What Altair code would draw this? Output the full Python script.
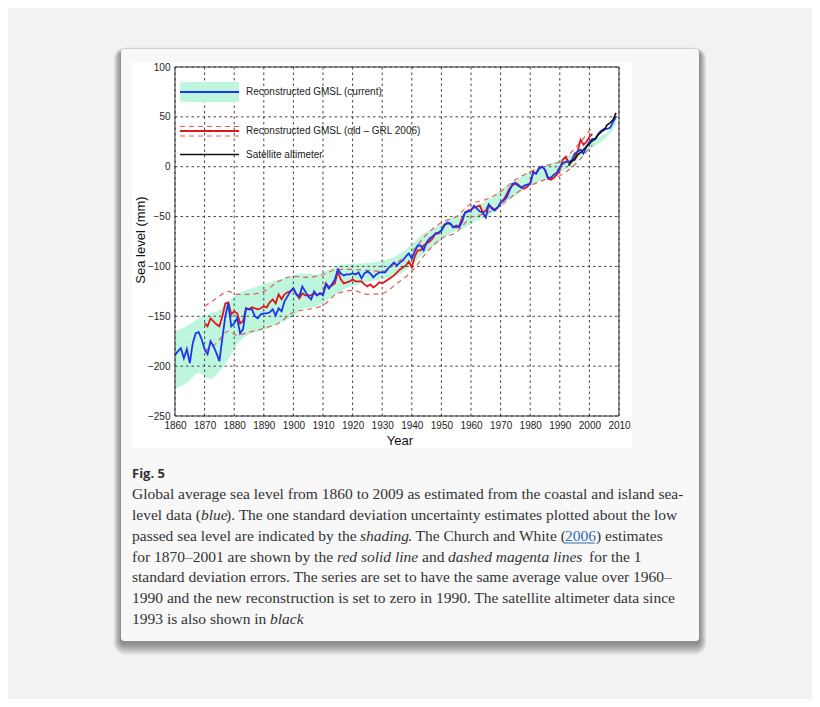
import altair as alt
import pandas as pd

# ---------------- data ----------------
blue_years = list(range(1860, 2010))
blue_vals = [
    -189, -185, -182, -192, -183, -197, -177, -167, -166, -173,
    -183, -188, -175, -180, -187, -195, -172, -150, -137, -160,
    -157, -152, -167, -163, -142, -143, -143, -150, -152, -148,
    -147, -147, -146, -143, -149, -142, -145, -135, -130, -125,
    -122, -128, -130, -120, -125, -130, -133, -125, -129, -127,
    -129, -118, -122, -118, -113, -103, -107, -109, -108, -108,
    -107, -108, -106, -112, -107, -105, -107, -111, -108, -106,
    -106, -106, -102, -99, -96, -99, -96, -94, -90, -87,
    -92, -85, -79, -79, -84, -76, -72, -70, -67, -66,
    -64, -59, -56, -57, -61, -59, -61, -55, -46, -45,
    -44, -39, -42, -45, -46, -51, -38, -42, -44, -41,
    -36, -34, -31, -24, -17, -17, -19, -21, -19, -18,
    -17, -6, -7, -2, 0, -3, -11, -11, -8, -6,
    0, 3, 5, 5, 6, 13, 15, 17, 13, 20,
    25, 28, 28, 33, 36, 38, 38, 39, 45, 50,
]

red_years = list(range(1870, 2002))
red_vals = [
    -157, -160, -152, -155, -158, -160, -150, -137, -136, -148,
    -145, -147, -157, -155, -142, -143, -141, -142, -143, -142,
    -140, -141, -136, -133, -137, -128, -133, -128, -126, -125,
    -122, -128, -132, -127, -129, -129, -129, -127, -129, -127,
    -128, -117, -121, -119, -117, -105, -113, -117, -116, -115,
    -113, -115, -115, -115, -118, -120, -118, -121, -119, -116,
    -117, -115, -113, -111, -109, -106, -103, -101, -99, -95,
    -101, -90, -84, -84, -79, -77, -75, -72, -67, -67,
    -64, -58, -57, -57, -60, -61, -59, -52, -46, -44,
    -43, -41, -40, -39, -46, -44, -38, -41, -43, -41,
    -36, -33, -28, -22, -19, -16, -18, -21, -22, -20,
    -17, -5, -7, -1, 0, -3, -12, -13, -11, -8,
    -3, 7, 10, 4, 5, 9, 15, 27, 22, 25,
    30, 33,
]

err_years = [1870, 1874, 1878, 1881, 1885, 1890, 1895, 1900, 1905, 1910,
             1915, 1920, 1925, 1930, 1935, 1940, 1945, 1950, 1955, 1960,
             1965, 1970, 1975, 1980, 1985, 1990, 1995, 2001]
err_upper = [-140, -132, -125, -128, -128, -125, -115, -110, -111, -108,
             -103, -103, -104, -105, -96, -85, -68, -56, -50, -37,
             -33, -25, -13, -5, 1, 5, 18, 40]
err_lower = [-185, -177, -165, -169, -166, -162, -157, -146, -143, -139,
             -127, -124, -128, -127, -117, -105, -86, -72, -66, -51,
             -47, -39, -27, -19, -13, -9, 2, 22]

band_years = [1860, 1864, 1868, 1872, 1875, 1878, 1881, 1885, 1890, 1894,
              1899, 1903, 1908, 1912, 1917, 1923, 1929, 1935, 1940, 1944,
              1949, 1953, 1958, 1962, 1967, 1971, 1976, 1980, 1985, 1989,
              1994, 1998, 2003, 2007, 2009]
band_upper = [-165, -160, -152, -147, -144, -135, -128, -123, -118, -114,
              -110, -107, -108, -103, -98, -97, -95, -89, -78, -67,
              -59, -52, -46, -39, -31, -21, -12, -4, 1, 6,
              13, 21, 29, 38, 52]
band_lower = [-223, -217, -207, -213, -205, -193, -178, -168, -164, -158,
              -152, -143, -140, -133, -123, -117, -113, -109, -99, -87,
              -76, -67, -61, -54, -47, -37, -27, -19, -12, -7,
              1, 13, 23, 33, 42]

sat_years = list(range(1993, 2010))
sat_vals = [1, 6, 7, 12, 14, 17, 20, 23, 26, 28, 32, 35, 37, 42, 44, 47, 54]

x_ticks = list(range(1860, 2011, 10))
y_ticks = list(range(-250, 101, 50))

legend_labels = ["Reconstructed GMSL (current)",
                 "Reconstructed GMSL (old \u2013 GRL 2006)",
                 "Satellite altimeter"]

caption_title = "Fig. 5"

# ---------------- layout ----------------
W, H = 444, 349          # plot area (page x 175..619, y 67..416)
OX, OY = 175, 67         # page position of plot origin

XS = alt.Scale(domain=[1860, 2010], nice=False, zero=False)
YS = alt.Scale(domain=[-250, 100], nice=False, zero=False)
XA = alt.Axis(values=x_ticks, format="d", title=None, grid=False, ticks=False,
              domain=False, labelFlush=False, labelOverlap=False, labelPadding=4,
              zindex=1)
YA = alt.Axis(values=y_ticks, title=None, grid=False, ticks=False, domain=False,
              labelOverlap=False, labelPadding=5, zindex=1)

one = pd.DataFrame({"k": [0]})


def box(x1, y1, x2, y2, **kw):
    return alt.Chart(one).mark_rect(**kw).encode(
        x=alt.value(x1 - OX), x2=alt.value(x2 - OX),
        y=alt.value(y1 - OY), y2=alt.value(y2 - OY))


def hline(x1, x2, y, **kw):
    return alt.Chart(one).mark_rule(**kw).encode(
        x=alt.value(x1 - OX), x2=alt.value(x2 - OX), y=alt.value(y - OY))


layers = []
# card shadow
for s in range(1, 10):
    layers.append(box(121 - s * 0.8, 49 + 3 - s * 0.5, 699 + s * 0.8, 641 + 2 + s * 1.3,
                      color="#000000", opacity=0.055, cornerRadius=3 + s))
# card + figure background
layers.append(box(121, 49, 699, 641, color="#f8f8f8", cornerRadius=3))
layers.append(box(132, 62, 632, 448, color="#ffffff"))

band_df = pd.DataFrame({"year": band_years, "lo": band_lower, "hi": band_upper})
layers.append(alt.Chart(band_df).mark_area(color="#bdf5dd", interpolate="monotone").encode(
    x=alt.X("year:Q", scale=XS, axis=XA),
    y=alt.Y("lo:Q", scale=YS, axis=YA), y2="hi:Q"))

# grid
gx = pd.DataFrame({"t": x_ticks})
gy = pd.DataFrame({"t": y_ticks})
layers.append(alt.Chart(gx).mark_rule(color="#444", strokeWidth=1, strokeDash=[2.5, 3]).encode(
    x=alt.X("t:Q", scale=XS, axis=XA), y=alt.value(0), y2=alt.value(H)))
layers.append(alt.Chart(gy).mark_rule(color="#444", strokeWidth=1, strokeDash=[2.5, 3]).encode(
    y=alt.Y("t:Q", scale=YS, axis=YA), x=alt.value(0), x2=alt.value(W)))

err_df = pd.DataFrame({"year": err_years, "up": err_upper, "lo": err_lower})
for col in ["up", "lo"]:
    layers.append(alt.Chart(err_df).mark_line(color="#e0605c", strokeWidth=1.2,
                                              strokeDash=[5, 4], interpolate="monotone").encode(
        x=alt.X("year:Q", scale=XS, axis=XA), y=alt.Y(f"{col}:Q", scale=YS, axis=YA)))

red_df = pd.DataFrame({"year": red_years, "v": red_vals})
layers.append(alt.Chart(red_df).mark_line(color="#e3141c", strokeWidth=1.8).encode(
    x=alt.X("year:Q", scale=XS, axis=XA), y=alt.Y("v:Q", scale=YS, axis=YA)))

blue_df = pd.DataFrame({"year": blue_years, "v": blue_vals})
layers.append(alt.Chart(blue_df).mark_line(color="#1d35f0", strokeWidth=1.8).encode(
    x=alt.X("year:Q", scale=XS, axis=XA), y=alt.Y("v:Q", scale=YS, axis=YA)))

sat_df = pd.DataFrame({"year": sat_years, "v": sat_vals})
layers.append(alt.Chart(sat_df).mark_line(color="#111111", strokeWidth=1.6).encode(
    x=alt.X("year:Q", scale=XS, axis=XA), y=alt.Y("v:Q", scale=YS, axis=YA)))

# frame
layers.append(alt.Chart(one).mark_rect(fill=None, stroke="#333", strokeWidth=1).encode(
    x=alt.value(0), x2=alt.value(W), y=alt.value(0), y2=alt.value(H)))

# legend
layers.append(box(180, 82, 239, 102, color="#bdf5dd"))
layers.append(hline(180, 239, 92, color="#1d35f0", strokeWidth=1.8))
layers.append(hline(180, 239, 126.5, color="#e0605c", strokeWidth=1.2, strokeDash=[5, 4]))
layers.append(hline(180, 239, 136, color="#e0605c", strokeWidth=1.2, strokeDash=[5, 4]))
layers.append(hline(180, 239, 131, color="#e3141c", strokeWidth=1.8))
layers.append(hline(180, 239, 154.5, color="#111111", strokeWidth=1.6))

leg_df = pd.DataFrame({"t": legend_labels, "x": [246 - OX] * 3,
                       "y": [92 - OY, 131 - OY, 154.5 - OY]})
layers.append(alt.Chart(leg_df).mark_text(align="left", baseline="middle", font="Liberation Sans",
                                          fontSize=10, color="#222").encode(
    x=alt.X("x:Q", scale=None), y=alt.Y("y:Q", scale=None), text="t:N"))

# axis titles
layers.append(alt.Chart(pd.DataFrame({"t": ["Year"]})).mark_text(
    font="Liberation Sans", fontSize=13, color="#111", baseline="middle").encode(
    x=alt.value(400 - OX), y=alt.value(441 - OY), text="t:N"))
layers.append(alt.Chart(pd.DataFrame({"t": ["Sea level (mm)"]})).mark_text(
    font="Liberation Sans", fontSize=13, color="#111", baseline="middle", angle=270).encode(
    x=alt.value(141 - OX), y=alt.value(240 - OY), text="t:N"))

# caption
layers.append(alt.Chart(pd.DataFrame({"t": [caption_title]})).mark_text(
    font="Open Sans", fontSize=13, fontWeight="bold", color="#333", align="left",
    baseline="middle").encode(x=alt.value(132 - OX), y=alt.value(474 - OY), text="t:N"))

LY = [494, 515, 536, 557, 577, 598, 619]
normal = [
    (132, LY[0], "Global average sea level from 1860 to 2009 as estimated from the coastal and island sea-"),
    (132, LY[1], "level data ("),
    (226, LY[1], "). The one standard deviation uncertainty estimates plotted about the low"),
    (132, LY[2], "passed sea level are indicated by the"),
    (408, LY[2], ". The Church and White ("),
    (596, LY[2], ") estimates"),
    (132, LY[3], "for 1870\u20132001 are shown by the"),
    (422, LY[3], "and"),
    (589, LY[3], "for the 1"),
    (132, LY[4], "standard deviation errors. The series are set to have the same average value over 1960\u2013"),
    (132, LY[5], "1990 and the new reconstruction is set to zero in 1990. The satellite altimeter data since"),
    (132, LY[6], "1993 is also shown in"),
]
italic = [
    (201, LY[1], "blue"),
    (360, LY[2], "shading"),
    (337, LY[3], "red solid line"),
    (448, LY[3], "dashed magenta lines"),
    (270, LY[6], "black"),
]
link = [(565, LY[2], "2006")]


def seg_df(rows):
    return pd.DataFrame({"x": [r[0] - OX for r in rows], "y": [r[1] - OY for r in rows],
                         "t": [r[2] for r in rows]})


CF = "Liberation Serif"
CS = 15.5
layers.append(alt.Chart(seg_df(normal)).mark_text(
    font=CF, fontSize=CS, color="#333", align="left", baseline="middle").encode(
    x=alt.X("x:Q", scale=None), y=alt.Y("y:Q", scale=None), text="t:N"))
layers.append(alt.Chart(seg_df(italic)).mark_text(
    font=CF, fontSize=CS, fontStyle="italic", color="#333", align="left", baseline="middle").encode(
    x=alt.X("x:Q", scale=None), y=alt.Y("y:Q", scale=None), text="t:N"))
layers.append(alt.Chart(seg_df(link)).mark_text(
    font=CF, fontSize=CS, color="#2f6db5", align="left", baseline="middle").encode(
    x=alt.X("x:Q", scale=None), y=alt.Y("y:Q", scale=None), text="t:N"))
layers.append(hline(565, 595, 543, color="#2f6db5", strokeWidth=1))

chart = alt.layer(*layers).properties(
    width=W, height=H,
    padding={"left": OX - 8, "top": OY - 8, "right": 804 - (OX - 8) - W, "bottom": 691 - (OY - 8) - H},
    autosize=alt.AutoSizeParams(type="none"),
    background="#f2f2f2",
).configure_view(stroke=None).configure_axis(
    labelFont="Liberation Sans", labelFontSize=10, labelColor="#222")

chart.save("out.html", embed_options={"renderer": "svg", "actions": False})
